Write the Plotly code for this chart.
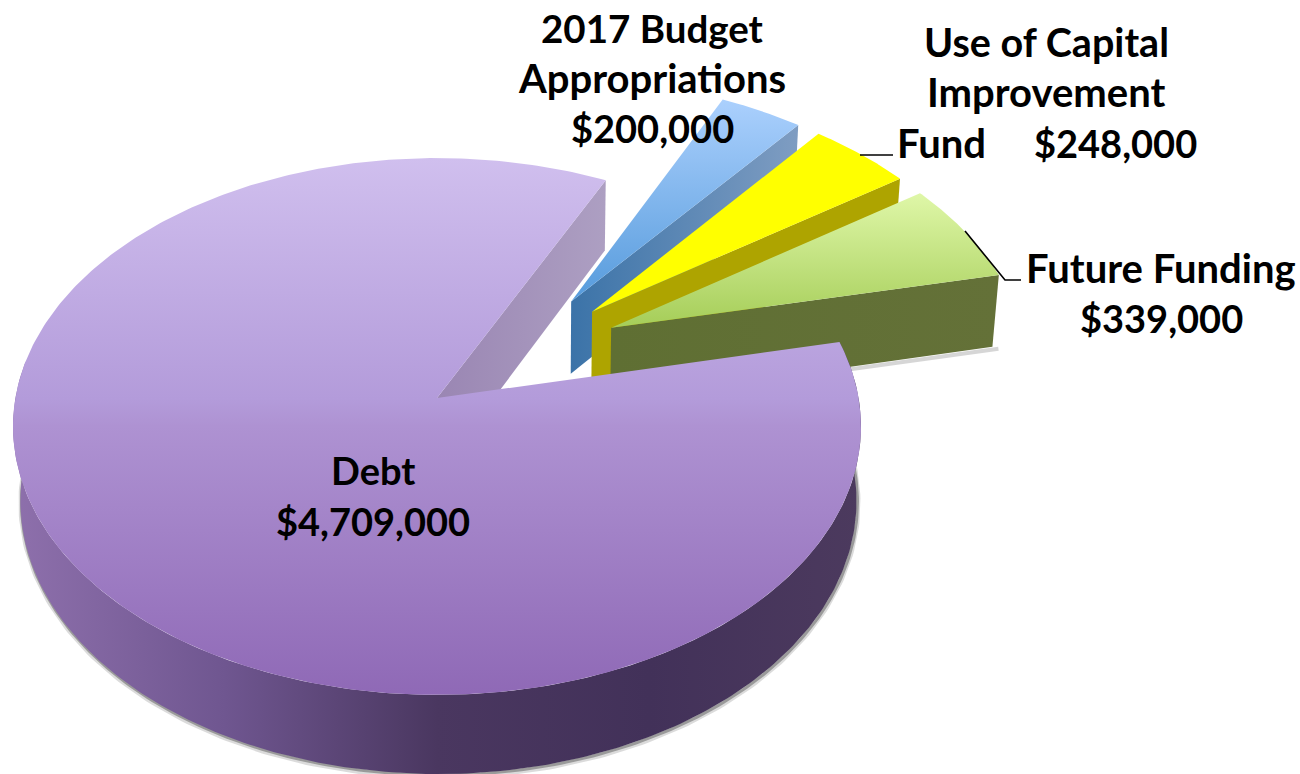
import numpy as np
import plotly.graph_objects as go

# ---- data ----
categories = ["Debt", "2017 Budget Appropriations", "Use of Capital Improvement Fund", "Future Funding"]
values = [4709000, 200000, 248000, 339000]

label_lines = ["2017 Budget", "Appropriations", "$200,000", "Use of Capital", "Improvement",
               "Fund", "$248,000", "Future Funding", "$339,000", "Debt", "$4,709,000"]
label_x = [652, 652, 652, 1046, 1046, 941, 1115, 1161, 1161, 373, 373]
label_y = [28, 78, 128, 41, 92, 143, 143, 268, 318, 470, 521]
label_size = [38.5, 40, 38, 39.5, 40, 40, 38, 40, 38, 38, 38]

# ---- styling / projection ----
explode = {"Debt": (0, 0), "2017 Budget Appropriations": (0.331, 0.378),
           "Use of Capital Improvement Fund": (0.381, 0.337), "Future Funding": (0.425, 0.272)}
top_grad = {"Debt": [[0, "#d0bfee"], [0.45, "#b39bda"], [0.5, "#ae92d2"], [1, "#8f69b6"]],
            "2017 Budget Appropriations": [[0, "#abd0fd"], [1, "#569bdc"]],
            "Use of Capital Improvement Fund": [[0, "#ffff00"], [1, "#ffff00"]],
            "Future Funding": [[0, "#dff7a8"], [1, "#a5cd58"]]}
side_grad = {"Debt": [[0, "#8e70ac"], [0.25, "#6f5690"], [0.5, "#4a3760"], [0.75, "#423159"], [1, "#4c3a5e"]],
             "2017 Budget Appropriations": [[0, "#3b73a8"], [1, "#7f9dc2"]],
             "Use of Capital Improvement Fund": [[0, "#aea400"], [1, "#aea400"]],
             "Future Funding": [[0, "#5f6f33"], [1, "#647138"]]}
inner_debt_grad = [[0, "#9a86b3"], [1, "#ad9fc2"]]

CX, CY, R, A, K = 437.0, 398.0, 421.6, 265.4, 0.106
D, SX, SY, X0 = 74.0, 0.986, 1.0175, 540.0
START = 64.0


def top(u, v):
    w = 1 + K * v
    return CX + R * u / w, CY - A * v / w


def bottom(u, v):
    x, y = top(u, v)
    return X0 + (x - X0) * SX, CY + D - SY * (CY - y)


total = sum(values)
sweeps = [v / total * 360 for v in values]
spans = {}
a = START
spans["Debt"] = (START, START + sweeps[0])
for c, s in zip(categories[1:], sweeps[1:]):
    spans[c] = (a - s, a)
    a -= s

fig = go.Figure()


def poly(xs, ys, grad, kind):
    xs, ys = np.asarray(xs), np.asarray(ys)
    lo, hi = (xs.min(), xs.max()) if kind == "horizontal" else (ys.min(), ys.max())
    fig.add_trace(go.Scatter(
        x=xs, y=ys, mode="lines", fill="toself", line=dict(width=0),
        fillgradient=dict(type=kind, colorscale=grad, start=lo, stop=hi),
        hoverinfo="skip", showlegend=False))


def arc(c, t0, t1, n=200):
    du, dv = explode[c]
    t = np.radians(np.linspace(t0, t1, n))
    return du + np.cos(t), dv + np.sin(t)


# exploded slices, back to front
for c in categories[1:]:
    t0, t1 = spans[c]
    du, dv = explode[c]
    tx0, ty0 = top(du, dv)
    tx1, ty1 = top(du + np.cos(np.radians(t0)), dv + np.sin(np.radians(t0)))
    bx1, by1 = bottom(du + np.cos(np.radians(t0)), dv + np.sin(np.radians(t0)))
    bx0, by0 = bottom(du, dv)
    if c == "Future Funding":
        fig.add_trace(go.Scatter(x=[bx0, bx1 + 6], y=[by0 + 2, by1 + 2], mode="lines",
                                 line=dict(color="rgba(120,120,120,0.3)", width=4),
                                 hoverinfo="skip", showlegend=False))
    poly([tx0, tx1, bx1, bx0, tx0], [ty0, ty1, by1, by0, ty0], side_grad[c], "horizontal")
    u, v = arc(c, t0, t1, 60)
    x, y = top(u, v)
    poly(np.r_[tx0, x, tx0], np.r_[ty0, y, ty0], top_grad[c], "vertical")

# Debt: inner wall, outer wall, top
c = "Debt"
t0, t1 = spans[c]
cs, sn = np.cos(np.radians(t0)), np.sin(np.radians(t0))
tx0, ty0 = top(0, 0)
tx1, ty1 = top(cs, sn)
bx1, by1 = bottom(cs, sn)
bx0, by0 = bottom(0, 0)
poly([tx0, tx1, bx1, bx0, tx0], [ty0, ty1, by1, by0, ty0], inner_debt_grad, "horizontal")

u, v = arc(c, 172, t1, 240)
xt, yt = top(u, v)
xb, yb = bottom(u, v)
fig.add_trace(go.Scatter(x=xb + 1, y=yb + 2, mode="lines", line=dict(color="rgba(110,110,110,0.25)", width=6),
                         hoverinfo="skip", showlegend=False))
fig.add_trace(go.Scatter(x=xb + 1, y=yb + 1, mode="lines", line=dict(color="rgba(90,90,90,0.5)", width=3),
                         hoverinfo="skip", showlegend=False))
poly(np.r_[xt, xb[::-1], xt[0]], np.r_[yt, yb[::-1], yt[0]], side_grad[c], "horizontal")

u, v = arc(c, t0, t1, 400)
x, y = top(u, v)
poly(np.r_[tx0, x, tx0], np.r_[ty0, y, ty0], top_grad[c], "vertical")

# leader lines
fig.add_trace(go.Scatter(x=[860, 893], y=[155, 155], mode="lines", line=dict(color="black", width=1.6),
                         hoverinfo="skip", showlegend=False))
fig.add_trace(go.Scatter(x=[965, 1005, 1021], y=[231, 280, 280], mode="lines", line=dict(color="black", width=1.6),
                         hoverinfo="skip", showlegend=False))

for t, lx, ly, sz in zip(label_lines, label_x, label_y, label_size):
    fig.add_annotation(x=lx, y=ly, text=f"<b>{t}</b>", showarrow=False, xanchor="center", yanchor="middle",
                       font=dict(family="Lato", size=sz, color="black"))

fig.update_layout(
    width=1300, height=774, margin=dict(l=0, r=0, t=0, b=0), autosize=False,
    paper_bgcolor="white", plot_bgcolor="white", showlegend=False,
    xaxis=dict(range=[0, 1300], visible=False, fixedrange=True),
    yaxis=dict(range=[774, 0], visible=False, fixedrange=True),
)
fig.write_html("out.html", config={"displayModeBar": False},
               post_script="document.body.style.margin='0';document.body.style.overflow='hidden';")
